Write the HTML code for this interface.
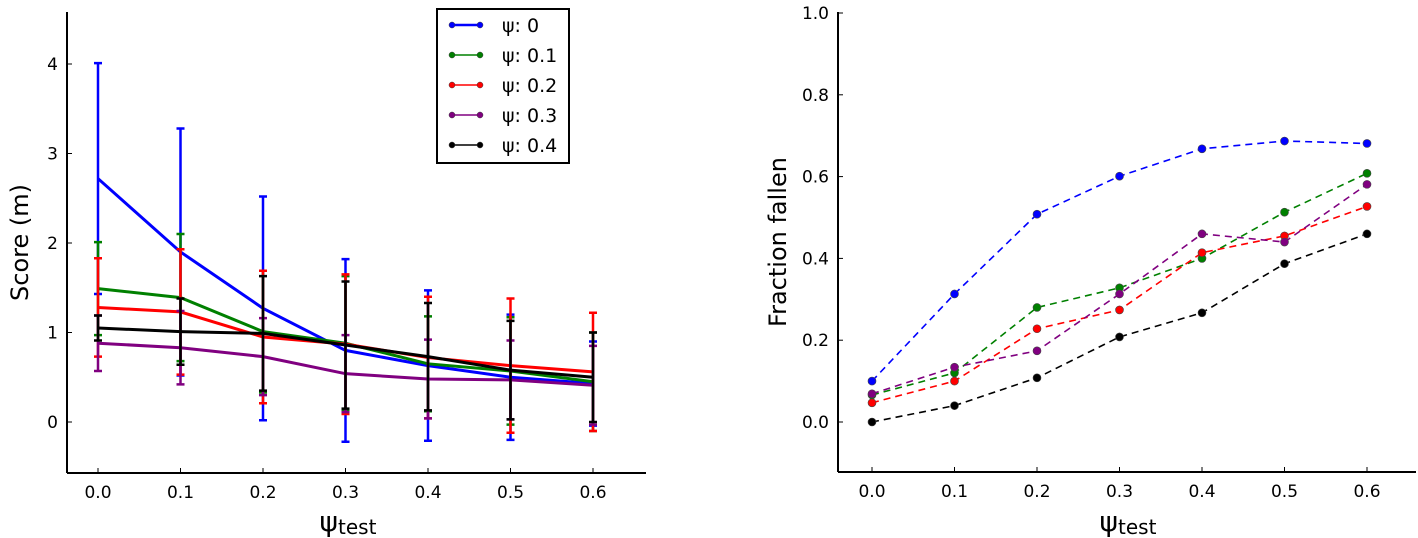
<!DOCTYPE html>
<html><head><meta charset="utf-8"><style>
html,body{margin:0;padding:0;background:#fff;}
svg{display:block;font-family:"DejaVu Sans","Liberation Sans",sans-serif;}
</style></head><body>
<svg id="fig" width="1418" height="538" viewBox="0 0 1418 538">
<g id="left"></g>
<g id="right"></g>
</svg>
<script>
const xVals = [0.0, 0.1, 0.2, 0.3, 0.4, 0.5, 0.6];
const xTicks = ["0.0","0.1","0.2","0.3","0.4","0.5","0.6"];
const seriesNames = ["ψ: 0","ψ: 0.1","ψ: 0.2","ψ: 0.3","ψ: 0.4"];
const colors = ["#0000ff","#008000","#ff0000","#800080","#000000"];
const scorePsi0 = [2.72, 1.90, 1.27, 0.80, 0.63, 0.50, 0.43];
const scorePsi01 = [1.49, 1.39, 1.01, 0.88, 0.65, 0.57, 0.45];
const scorePsi02 = [1.28, 1.23, 0.95, 0.87, 0.72, 0.63, 0.56];
const scorePsi03 = [0.88, 0.83, 0.73, 0.54, 0.48, 0.47, 0.41];
const scorePsi04 = [1.05, 1.01, 0.99, 0.86, 0.73, 0.58, 0.50];
const errPsi0 = [1.29, 1.38, 1.25, 1.02, 0.84, 0.70, 0.47];
const errPsi01 = [0.52, 0.71, 0.68, 0.75, 0.53, 0.60, 0.55];
const errPsi02 = [0.55, 0.70, 0.74, 0.78, 0.68, 0.75, 0.66];
const errPsi03 = [0.31, 0.41, 0.43, 0.43, 0.44, 0.44, 0.44];
const errPsi04 = [0.14, 0.37, 0.64, 0.71, 0.60, 0.55, 0.50];
const scoreTicks = [0, 1, 2, 3, 4];
const fallPsi0 = [0.100, 0.313, 0.508, 0.601, 0.668, 0.687, 0.681];
const fallPsi01 = [0.066, 0.120, 0.280, 0.328, 0.400, 0.513, 0.608];
const fallPsi02 = [0.047, 0.100, 0.228, 0.274, 0.414, 0.455, 0.527];
const fallPsi03 = [0.069, 0.134, 0.174, 0.313, 0.460, 0.440, 0.581];
const fallPsi04 = [0.000, 0.040, 0.108, 0.208, 0.267, 0.387, 0.460];
const fallTicks = [0.0, 0.2, 0.4, 0.6, 0.8, 1.0];
const fallTickLabels = ["0.0","0.2","0.4","0.6","0.8","1.0"];

const NS = "http://www.w3.org/2000/svg";
function mk(parent, tag, attrs, text){
  const e = document.createElementNS(NS, tag);
  for (const k in attrs) e.setAttribute(k, attrs[k]);
  if (text !== undefined) e.textContent = text;
  parent.appendChild(e);
  return e;
}
const Lx = v => 98 + v * (593 - 98) / 0.6;
const Ly = v => 422 - v * (422 - 64) / 4;
const Rx = v => 872 + v * (1367 - 872) / 0.6;
const Ry = v => 422 - v * (422 - 13);

function axes(g, x0, x1, yTop, yBot, xf, yf, yTickVals, yTickLabels, ylabel, ylx, xlx){
  let e;
  e = mk(g,'line',{x1:x0,y1:yTop,x2:x0,y2:yBot,stroke:'#000','stroke-width':2});
  
  
  e = mk(g,'line',{x1:x0,y1:yBot,x2:x1,y2:yBot,stroke:'#000','stroke-width':2});
  
  
  xVals.forEach((v,i)=>{
    const x = xf(v);
    const t = mk(g,'line',{x1:x,y1:yBot,x2:x,y2:yBot-5,stroke:'#000','stroke-width':1});
    
    
    const l = mk(g,'text',{x:x,y:yBot+25,'text-anchor':'middle','font-size':17},xTicks[i]);
    
    
  });
  yTickVals.forEach((v,i)=>{
    const y = yf(v);
    const t = mk(g,'line',{x1:x0,y1:y,x2:x0+5,y2:y,stroke:'#000','stroke-width':1});
    
    
    const l = mk(g,'text',{x:x0-9,y:y+6,'text-anchor':'end','font-size':17},yTickLabels[i]);
    
    
  });
  const yl = mk(g,'text',{x:ylx,y:(yTop+yBot)/2,'text-anchor':'middle','font-size':24,transform:`rotate(-90 ${ylx} ${(yTop+yBot)/2})`},ylabel);
  
  
  const xl = mk(g,'text',{x:xlx,y:531,'text-anchor':'middle','font-size':28});
  
  
  mk(xl,'tspan',{},'ψ');
  mk(xl,'tspan',{'font-size':20,dy:3},'test');
}

const L = document.getElementById('left');
axes(L, 67, 646, 12, 473, Lx, Ly, scoreTicks, scoreTicks.map(String), 'Score (m)', 28, 348);
const scores = [scorePsi0, scorePsi01, scorePsi02, scorePsi03, scorePsi04];
const errs = [errPsi0, errPsi01, errPsi02, errPsi03, errPsi04];
scores.forEach((s,k)=>{
  const c = colors[k];
  s.forEach((v,i)=>{
    const x = Lx(xVals[i]), yt = Ly(v+errs[k][i]), yb = Ly(v-errs[k][i]);
    const eb = mk(L,'path',{d:`M${x},${yt}V${yb}M${x-4},${yt}H${x+4}M${x-4},${yb}H${x+4}`,stroke:c,'stroke-width':2.5,fill:'none'});
    
    
  });
  const ln = mk(L,'polyline',{points:s.map((v,i)=>Lx(xVals[i])+','+Ly(v)).join(' '),stroke:c,'stroke-width':3,fill:'none'});
  
  
});
const leg = mk(L,'g',{});


mk(leg,'rect',{x:437,y:9,width:132,height:154,fill:'#fff',stroke:'#000','stroke-width':2});
seriesNames.forEach((n,k)=>{
  const y = 25 + k*30;
  const ent = mk(leg,'g',{});
  
  
  mk(ent,'line',{x1:452,y1:y,x2:480,y2:y,stroke:colors[k],'stroke-width':k==0?2.5:1.5});
  mk(ent,'circle',{cx:452,cy:y,r:3,fill:colors[k],stroke:'#333','stroke-width':0.5});
  mk(ent,'circle',{cx:480,cy:y,r:3,fill:colors[k],stroke:'#333','stroke-width':0.5});
  mk(ent,'text',{x:502,y:y+7,'font-size':19},n);
});

const R = document.getElementById('right');
axes(R, 838, 1416, 12, 472, Rx, Ry, fallTicks, fallTickLabels, 'Fraction fallen', 786, 1128);
const falls = [fallPsi0, fallPsi01, fallPsi02, fallPsi03, fallPsi04];
falls.forEach((s,k)=>{
  const c = colors[k];
  const ln = mk(R,'polyline',{points:s.map((v,i)=>Rx(xVals[i])+','+Ry(v)).join(' '),stroke:c,'stroke-width':1.6,'stroke-dasharray':'7,5',fill:'none'});
  
  
  s.forEach((v,i)=>{
    const p = mk(R,'circle',{cx:Rx(xVals[i]),cy:Ry(v),r:4,fill:c,stroke:'#444','stroke-width':0.6});
    
    
  });
});
</script>
</body></html>
